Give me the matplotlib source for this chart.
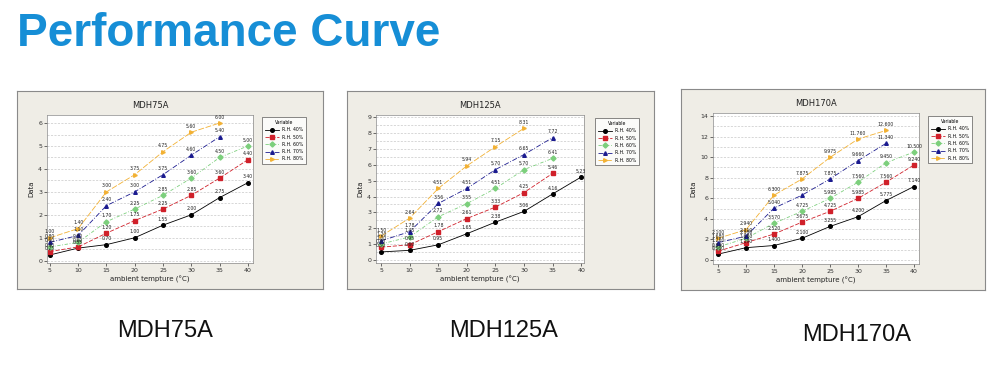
import numpy as np
import matplotlib
matplotlib.use("Agg")
import matplotlib.pyplot as plt
from matplotlib.patches import Rectangle
from matplotlib.ticker import MultipleLocator

# =====================================================
# Data
# =====================================================

temps = [5, 10, 15, 20, 25, 30, 35, 40]
series_names = ["R.H. 40%", "R.H. 50%", "R.H. 60%", "R.H. 70%", "R.H. 80%"]
models = ["MDH75A", "MDH125A", "MDH170A"]

mdh75_values = [
    [0.25, 0.55, 0.70, 1.00, 1.55, 2.00, 2.75, 3.40],
    [0.40, 0.60, 1.20, 1.75, 2.25, 2.85, 3.60, 4.40],
    [0.60, 0.80, 1.70, 2.25, 2.85, 3.60, 4.50, 5.00],
    [0.80, 1.10, 2.40, 3.00, 3.75, 4.60, 5.40],
    [1.00, 1.40, 3.00, 3.75, 4.75, 5.60, 6.00],
]

mdh125_values = [
    [0.50, 0.60, 0.95, 1.65, 2.38, 3.06, 4.16, 5.23],
    [0.80, 0.95, 1.78, 2.61, 3.33, 4.25, 5.46],
    [1.00, 1.45, 2.72, 3.55, 4.51, 5.70, 6.41],
    [1.20, 1.78, 3.56, 4.51, 5.70, 6.65, 7.72],
    [1.50, 2.64, 4.51, 5.94, 7.15, 8.31],
]

mdh170_values = [
    [0.560, 1.190, 1.400, 2.100, 3.255, 4.200, 5.775, 7.140],
    [0.840, 1.680, 2.520, 3.675, 4.725, 5.985, 7.560, 9.240],
    [1.260, 2.100, 3.570, 4.725, 5.985, 7.560, 9.450, 10.500],
    [1.680, 2.310, 5.040, 6.300, 7.875, 9.660, 11.340],
    [2.100, 2.940, 6.300, 7.875, 9.975, 11.760, 12.600],
]

all_values = [mdh75_values, mdh125_values, mdh170_values]

# =====================================================
# Styles / layout (pixels in a 1000x366 canvas)
# =====================================================

colors = ["#000000", "#d0202a", "#7ccf7c", "#1b1b8f", "#f2b134"]
markers = ["o", "s", "D", "^", ">"]
styles = ["-", (0, (5, 2)), (0, (4, 2, 1, 2)), (0, (6, 2, 1, 2)), (0, (7, 2))]

W, H = 1000, 366

frames = [(17, 91, 323, 289), (347, 91, 654, 289), (681, 89, 985, 290)]
plot_boxes = [(47, 115, 253, 263), (376, 115, 584, 263), (713, 113, 919, 264)]
legend_pos = [(260, 115), (593, 116), (926, 114)]
xlims = [(4.5, 40.9), (4.1, 40.5), (4.1, 40.9)]
ylims = [(-0.1, 6.35), (-0.2, 9.15), (-0.4, 14.3)]
ysteps = [1, 1, 2]
fmts = ["{:.2f}", "{:.2f}", "{:.3f}"]
label_x = [165, 504, 857]
label_y = [331, 331, 335]


def fig_box(x0, y0, x1, y1):
    return [x0 / W, 1 - y1 / H, (x1 - x0) / W, (y1 - y0) / H]


fig = plt.figure(figsize=(10, 3.66), dpi=100)
fig.patch.set_facecolor("white")

fig.text(17 / W, 1 - 34 / H, "Performance Curve", fontsize=33,
         fontweight="bold", color="#168ed6", family="Liberation Sans",
         ha="left", va="center")

for i, model in enumerate(models):

    # grey Minitab-style frame behind each chart
    fx0, fy0, fx1, fy1 = frames[i]
    frame_ax = fig.add_axes(fig_box(fx0, fy0, fx1, fy1), zorder=-1)
    frame_ax.set_xticks([])
    frame_ax.set_yticks([])
    frame_ax.set_facecolor("#efede6")
    for sp in frame_ax.spines.values():
        sp.set_color("#8a8a8a")
        sp.set_linewidth(0.8)

    ax = fig.add_axes(fig_box(*plot_boxes[i]))
    ax.set_facecolor("white")

    for k, vals in enumerate(all_values[i]):
        xs = temps[:len(vals)]
        ax.plot(xs, vals, color=colors[k], marker=markers[k],
                linestyle=styles[k], linewidth=0.6, markersize=2.6,
                label=series_names[k])
        for x, v in zip(xs, vals):
            ax.annotate(fmts[i].format(v), (x, v), xytext=(0, 2.5),
                        textcoords="offset points", ha="center",
                        va="bottom", fontsize=3.3, color="#222222")

    ax.set_xlim(*xlims[i])
    ax.set_ylim(*ylims[i])
    ax.set_xticks(temps)
    ax.yaxis.set_major_locator(MultipleLocator(ysteps[i]))
    ax.yaxis.set_minor_locator(MultipleLocator(ysteps[i] / 2))
    ax.grid(axis="y", which="both", linestyle=(0, (3, 2)),
            color="#c8c8c8", linewidth=0.5)
    ax.set_axisbelow(True)
    ax.tick_params(labelsize=4.5, length=2, width=0.5, pad=1.5,
                   colors="#333333")
    ax.tick_params(which="minor", length=0)
    for sp in ax.spines.values():
        sp.set_color("#888888")
        sp.set_linewidth(0.5)

    ax.set_title(model, fontsize=6, pad=5, color="#222222")
    ax.set_xlabel("ambient tempture (°C)", fontsize=5, labelpad=2,
                  color="#222222")
    ax.set_ylabel("Data", fontsize=5, labelpad=3, color="#222222")

    lx, ly = legend_pos[i]
    leg = ax.legend(loc="upper left", bbox_to_anchor=(lx / W, 1 - ly / H),
                    bbox_transform=fig.transFigure, fontsize=3.3,
                    title="Variable", title_fontsize=3.3, frameon=True,
                    fancybox=False, edgecolor="#333333", handlelength=3,
                    borderpad=0.6, labelspacing=0.5, handletextpad=0.6)
    leg.get_frame().set_linewidth(0.5)
    leg.get_frame().set_facecolor("white")

    fig.text(label_x[i] / W, 1 - label_y[i] / H, model, fontsize=17,
             family="Liberation Sans", ha="center", va="center",
             color="#111111")

fig.savefig("out.png", dpi=100)
